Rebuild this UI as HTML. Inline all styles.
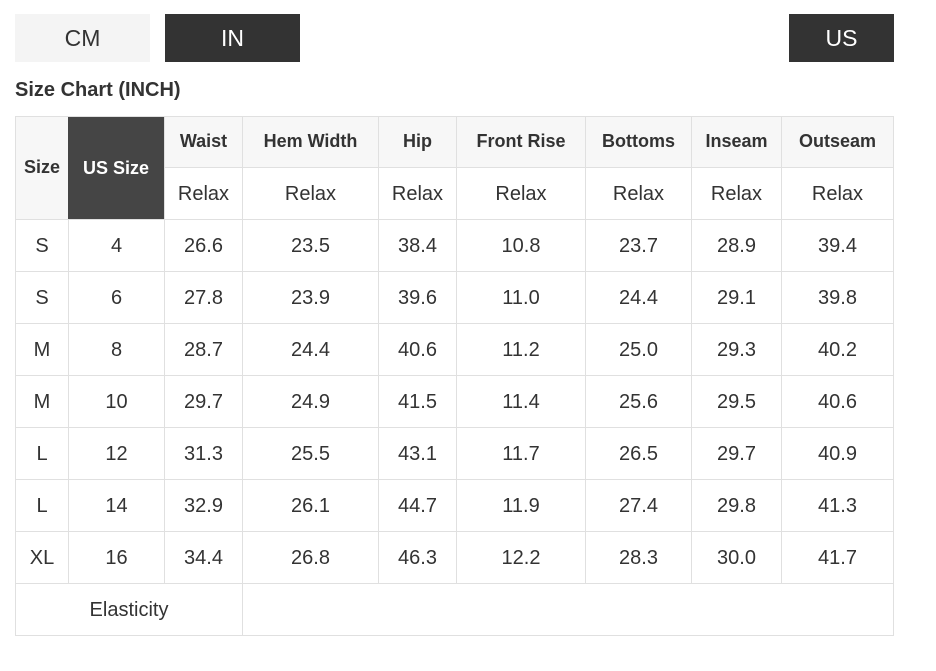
<!DOCTYPE html>
<html>
<head>
<meta charset="utf-8">
<style>
  html, body { margin:0; padding:0; background:#fff; }
  body { width:936px; height:671px; position:relative; overflow:hidden;
         font-family:"Liberation Sans", Arial, sans-serif; color:#333; }
  .btn { position:absolute; top:14px; height:48px; display:flex; align-items:center; justify-content:center;
         font-size:23px; }
  .title { position:absolute; left:15px; top:80px; font-size:20px; line-height:20px; font-weight:bold; color:#333; }
  .row { position:absolute; left:15px; display:flex; }
  .row > div { display:flex; align-items:center; justify-content:center; box-sizing:border-box; padding-left:1px; padding-top:3px; font-size:20px; }
  .h > div { font-weight:bold; font-size:18px; padding-top:0; }
  .hl { position:absolute; height:1px; background:#e0e0e0; }
  .vl { position:absolute; width:1px; background:#e0e0e0; }
</style>
</head>
<body>
  <div class="btn" style="left:15px;width:135px;background:#f4f4f4;color:#333;">CM</div>
  <div class="btn" style="left:165px;width:135px;background:#333;color:#fff;">IN</div>
  <div class="btn" style="left:789px;width:105px;background:#333;color:#fff;">US</div>

  <div class="title">Size Chart (INCH)</div>

  <!-- header backgrounds -->
  <div style="position:absolute;left:15px;top:116px;width:53px;height:103px;background:#f7f7f7;"></div>
  <div style="position:absolute;left:68px;top:116px;width:96px;height:103px;background:#454545;"></div>
  <div style="position:absolute;left:164px;top:116px;width:729px;height:51px;background:#f7f7f7;"></div>

  <!-- Size / US Size -->
  <div class="row h" style="top:116px;height:103px;">
    <div style="width:53px;">Size</div>
    <div style="width:96px;color:#fff;">US Size</div>
  </div>
  <!-- header row 1 -->
  <div class="row h" style="top:116px;height:50px;left:164px;">
    <div style="width:78px;">Waist</div>
    <div style="width:136px;">Hem Width</div>
    <div style="width:78px;">Hip</div>
    <div style="width:129px;">Front Rise</div>
    <div style="width:106px;">Bottoms</div>
    <div style="width:90px;">Inseam</div>
    <div style="width:112px;">Outseam</div>
  </div>
  <!-- header row 2 -->
  <div class="row" style="top:167px;height:52px;left:164px;">
    <div style="width:78px;">Relax</div>
    <div style="width:136px;">Relax</div>
    <div style="width:78px;">Relax</div>
    <div style="width:129px;">Relax</div>
    <div style="width:106px;">Relax</div>
    <div style="width:90px;">Relax</div>
    <div style="width:112px;">Relax</div>
  </div>

  <!-- data rows -->
  <div class="row" style="top:219px;height:52px;">
    <div style="width:53px;">S</div><div style="width:96px;">4</div><div style="width:78px;">26.6</div><div style="width:136px;">23.5</div><div style="width:78px;">38.4</div><div style="width:129px;">10.8</div><div style="width:106px;">23.7</div><div style="width:90px;">28.9</div><div style="width:112px;">39.4</div>
  </div>
  <div class="row" style="top:271px;height:52px;">
    <div style="width:53px;">S</div><div style="width:96px;">6</div><div style="width:78px;">27.8</div><div style="width:136px;">23.9</div><div style="width:78px;">39.6</div><div style="width:129px;">11.0</div><div style="width:106px;">24.4</div><div style="width:90px;">29.1</div><div style="width:112px;">39.8</div>
  </div>
  <div class="row" style="top:323px;height:52px;">
    <div style="width:53px;">M</div><div style="width:96px;">8</div><div style="width:78px;">28.7</div><div style="width:136px;">24.4</div><div style="width:78px;">40.6</div><div style="width:129px;">11.2</div><div style="width:106px;">25.0</div><div style="width:90px;">29.3</div><div style="width:112px;">40.2</div>
  </div>
  <div class="row" style="top:375px;height:52px;">
    <div style="width:53px;">M</div><div style="width:96px;">10</div><div style="width:78px;">29.7</div><div style="width:136px;">24.9</div><div style="width:78px;">41.5</div><div style="width:129px;">11.4</div><div style="width:106px;">25.6</div><div style="width:90px;">29.5</div><div style="width:112px;">40.6</div>
  </div>
  <div class="row" style="top:427px;height:52px;">
    <div style="width:53px;">L</div><div style="width:96px;">12</div><div style="width:78px;">31.3</div><div style="width:136px;">25.5</div><div style="width:78px;">43.1</div><div style="width:129px;">11.7</div><div style="width:106px;">26.5</div><div style="width:90px;">29.7</div><div style="width:112px;">40.9</div>
  </div>
  <div class="row" style="top:479px;height:52px;">
    <div style="width:53px;">L</div><div style="width:96px;">14</div><div style="width:78px;">32.9</div><div style="width:136px;">26.1</div><div style="width:78px;">44.7</div><div style="width:129px;">11.9</div><div style="width:106px;">27.4</div><div style="width:90px;">29.8</div><div style="width:112px;">41.3</div>
  </div>
  <div class="row" style="top:531px;height:52px;">
    <div style="width:53px;">XL</div><div style="width:96px;">16</div><div style="width:78px;">34.4</div><div style="width:136px;">26.8</div><div style="width:78px;">46.3</div><div style="width:129px;">12.2</div><div style="width:106px;">28.3</div><div style="width:90px;">30.0</div><div style="width:112px;">41.7</div>
  </div>
  <div class="row" style="top:583px;height:52px;">
    <div style="width:227px;">Elasticity</div><div style="width:651px;"></div>
  </div>

  <!-- horizontal lines -->
  <div class="hl" style="left:15px;width:879px;top:116px;"></div>
  <div class="hl" style="left:164px;width:730px;top:167px;"></div>
  <div class="hl" style="left:15px;width:879px;top:219px;"></div>
  <div class="hl" style="left:15px;width:879px;top:271px;"></div>
  <div class="hl" style="left:15px;width:879px;top:323px;"></div>
  <div class="hl" style="left:15px;width:879px;top:375px;"></div>
  <div class="hl" style="left:15px;width:879px;top:427px;"></div>
  <div class="hl" style="left:15px;width:879px;top:479px;"></div>
  <div class="hl" style="left:15px;width:879px;top:531px;"></div>
  <div class="hl" style="left:15px;width:879px;top:583px;"></div>
  <div class="hl" style="left:15px;width:879px;top:635px;"></div>

  <!-- vertical lines -->
  <div class="vl" style="left:15px;top:116px;height:520px;"></div>
  <div class="vl" style="left:68px;top:116px;height:467px;"></div>
  <div class="vl" style="left:164px;top:116px;height:467px;"></div>
  <div class="vl" style="left:242px;top:116px;height:520px;"></div>
  <div class="vl" style="left:378px;top:116px;height:467px;"></div>
  <div class="vl" style="left:456px;top:116px;height:467px;"></div>
  <div class="vl" style="left:585px;top:116px;height:467px;"></div>
  <div class="vl" style="left:691px;top:116px;height:467px;"></div>
  <div class="vl" style="left:781px;top:116px;height:467px;"></div>
  <div class="vl" style="left:893px;top:116px;height:520px;"></div>

  <!-- dark cell overlays its own top/left edges -->
  <div style="position:absolute;left:68px;top:117px;width:96px;height:102px;background:#454545;"></div>
  <div style="position:absolute;left:68px;top:117px;width:96px;height:102px;display:flex;align-items:center;justify-content:center;color:#fff;font-weight:bold;font-size:18px;">US Size</div>
</body>
</html>
